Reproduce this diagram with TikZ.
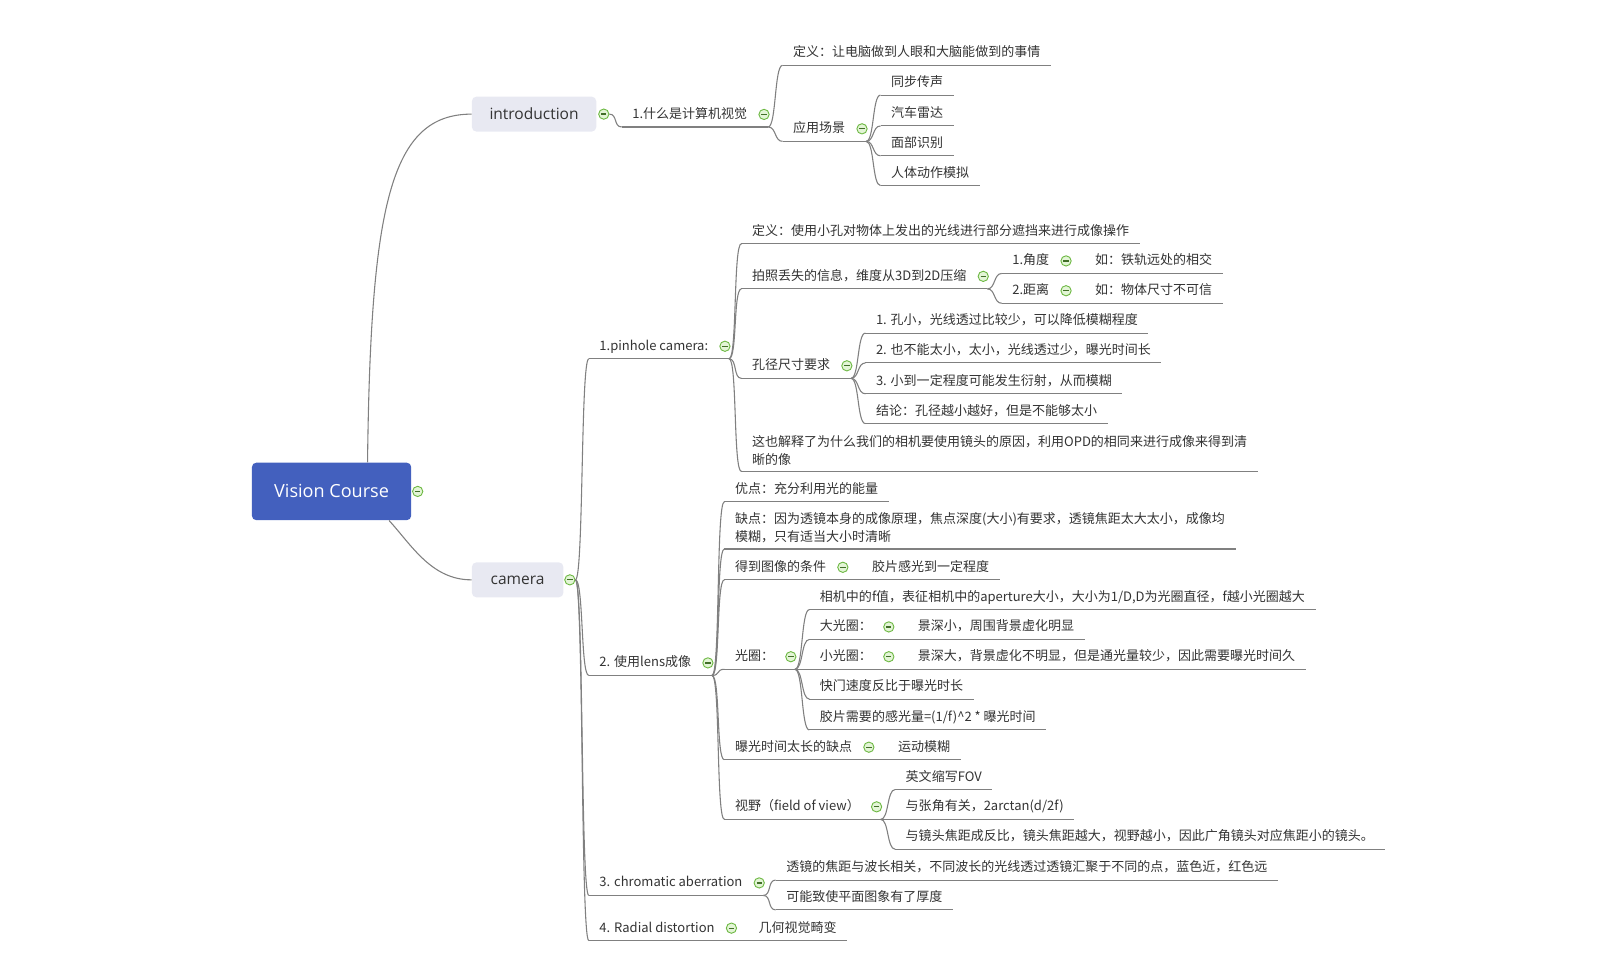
\documentclass[tikz,border=0pt]{standalone}
\usepackage{fontspec}
\usepackage{xcolor}
\usepackage{tikz}
\usetikzlibrary{positioning,calc}
\newfontfamily\cjk{Noto Sans CJK SC}
\newfontfamily\boxfont{Open Sans}
\definecolor{mapBlue}{HTML}{4360BE}
\definecolor{mapLilac}{HTML}{E8E9F2}
\definecolor{mapLine}{HTML}{808080}
\definecolor{mapText}{HTML}{333333}
\definecolor{foldGreen}{HTML}{6DB843}
\definecolor{foldFill}{HTML}{E3F5D6}
\newlength{\px}
\setlength{\px}{0.02cm}
\tikzset{
  link/.style={draw=mapLine,line width=0.6pt},
  curve/.style={to path={.. controls +(8,0) and +(-8,0) .. (\tikztotarget)}},
  topic/.style={anchor=south west,inner xsep=10\px,inner ysep=3pt,
    text height=6pt,text depth=1.5pt,text=mapText,
    font=\cjk\fontsize{7.2}{10.2}\selectfont,
    append after command={(\tikzlastnode.south west) edge[link] (\tikzlastnode.south east)}},
  twoline/.style={topic,text height={},text depth={},align=left},
  fold/.style={circle,draw=foldGreen,fill=foldFill,inner sep=0pt,minimum size=10\px,
    line width=0.5pt,
    path picture={\draw[foldGreen!60!black,line width=0.7pt]
      ([xshift=2.4\px]path picture bounding box.west) -- ([xshift=-2.4\px]path picture bounding box.east);}},
  rootbox/.style={fill=mapBlue,rounded corners=2.5pt,text=white,
    minimum width=155\px,minimum height=56\px,font=\boxfont\fontsize{10}{12}\selectfont},
  mainbox/.style={fill=mapLilac,rounded corners=2.5pt,text=mapText,
    minimum height=34\px,font=\boxfont\fontsize{8.6}{10}\selectfont}
}

\begin{document}
\begin{tikzpicture}[x=0.02cm,y=-0.02cm]
  \useasboundingbox (0,0) rectangle (1568,938);

  % main topics
  \node[rootbox] (vision) at (322.5,478) {Vision Course};
  \node[fold, right=0.5\px of vision] (vision-f) {};
  \node[mainbox, minimum width=121\px] (intro) at (519.5,111) {introduction};
  \node[fold, right=1.5\px of intro] (intro-f) {};
  \node[mainbox, minimum width=89\px] (camera) at (503.5,564) {camera};
  \node[fold, right=0.5\px of camera] (camera-f) {};

  \draw[link] ($(vision.north)+(35,0)$) .. controls +(3,-250) and +(-79,0) .. (intro.west);
  \draw[link] ($(vision.south)+(56,0)$) .. controls +(22,24) and +(-39,0) .. (camera.west);

  % introduction
  \node[topic] (whatcv) at ($(intro-f.east)+(12,12.5)$) {1.什么是计算机视觉\hspace*{10\px}};
  \node[fold] (whatcv-f) at ([xshift=-4\px]whatcv.east) {};
  \node[topic] (cvdef) at ($(whatcv.south east)+(14,-60)$) {定义：让电脑做到人眼和大脑能做到的事情};
  \node[topic] (scene) at ($(whatcv.south east)+(14,14)$) {应用场景\hspace*{10\px}};
  \node[fold] (scene-f) at ([xshift=-4\px]scene.east) {};
  \node[topic] (sync) at ($(scene.south east)+(14,-45)$) {同步传声};
  \node[topic] (radar) at ($(scene.south east)+(14,-15)$) {汽车雷达};
  \node[topic] (face) at ($(scene.south east)+(14,14)$) {面部识别};
  \node[topic] (motion) at ($(scene.south east)+(14,43)$) {人体动作模拟};

  \draw[link] (intro-f.east) to[curve] (whatcv.south west);
  \draw[link] (whatcv.south east) to[curve] (cvdef.south west);
  \draw[link] (whatcv.south east) to[curve] (scene.south west);
  \foreach \n in {sync,radar,face,motion}
    \draw[link] (scene.south east) to[curve] (\n.south west);

  % camera
  \node[topic] (pinhole) at ($(camera-f.east)+(13,-215)$) {1.pinhole camera:\hspace*{10\px}};
  \node[fold] (pinhole-f) at ([xshift=-4\px]pinhole.east) {};
  \node[topic] (lens) at ($(camera-f.east)+(13,93)$) {2. 使用lens成像\hspace*{10\px}};
  \node[fold] (lens-f) at ([xshift=-4\px]lens.east) {};
  \node[topic] (chroma) at ($(camera-f.east)+(13,307)$) {3. chromatic aberration\hspace*{10\px}};
  \node[fold] (chroma-f) at ([xshift=-4\px]chroma.east) {};
  \node[topic] (radial) at ($(camera-f.east)+(13,351)$) {4. Radial distortion\hspace*{10\px}};
  \node[fold] (radial-f) at ([xshift=-4\px]radial.east) {};

  \foreach \n in {pinhole,lens,chroma,radial}
    \draw[link] (camera-f.east) to[curve] (\n.south west);

  % 1.pinhole camera
  \node[topic] (phdef) at ($(pinhole.south east)+(12,-112)$) {定义：使用小孔对物体上发出的光线进行部分遮挡来进行成像操作};
  \node[topic] (lost) at ($(pinhole.south east)+(12,-68)$) {拍照丢失的信息，维度从3D到2D压缩\hspace*{10\px}};
  \node[fold] (lost-f) at ([xshift=-4\px]lost.east) {};
  \node[topic] (angle) at ($(lost.south east)+(14,-15)$) {1.角度\hspace*{10\px}};
  \node[fold] (angle-f) at ([xshift=-4\px]angle.east) {};
  \node[topic] (angleeg) at ($(angle.south east)+(14,0)$) {如：铁轨远处的相交};
  \node[topic] (dist) at ($(lost.south east)+(14,14)$) {2.距离\hspace*{10\px}};
  \node[fold] (dist-f) at ([xshift=-4\px]dist.east) {};
  \node[topic] (disteg) at ($(dist.south east)+(14,0)$) {如：物体尺寸不可信};
  \node[topic] (hole) at ($(pinhole.south east)+(12,19)$) {孔径尺寸要求\hspace*{10\px}};
  \node[fold] (hole-f) at ([xshift=-4\px]hole.east) {};
  \node[topic] (hole1) at ($(hole.south east)+(14,-44)$) {1. 孔小，光线透过比较少，可以降低模糊程度};
  \node[topic] (hole2) at ($(hole.south east)+(14,-15)$) {2. 也不能太小，太小，光线透过少，曝光时间长};
  \node[topic] (hole3) at ($(hole.south east)+(14,15)$) {3. 小到一定程度可能发生衍射，从而模糊};
  \node[topic] (hole4) at ($(hole.south east)+(14,44)$) {结论：孔径越小越好，但是不能够太小};
  \node[twoline] (why) at ($(pinhole.south east)+(12,109.5)$) {这也解释了为什么我们的相机要使用镜头的原因，利用OPD的相同来进行成像来得到清\\晰的像};

  \foreach \n in {phdef,lost,hole,why}
    \draw[link] (pinhole.south east) to[curve] (\n.south west);
  \draw[link] (lost.south east) to[curve] (angle.south west);
  \draw[link] (lost.south east) to[curve] (dist.south west);
  \draw[link] (angle.south east) -- (angleeg.south west);
  \draw[link] (dist.south east) -- (disteg.south west);
  \foreach \n in {hole1,hole2,hole3,hole4}
    \draw[link] (hole.south east) to[curve] (\n.south west);

  % 2. lens
  \node[topic] (pro) at ($(lens.south east)+(12,-169)$) {优点：充分利用光的能量};
  \node[twoline] (con) at ($(lens.south east)+(12,-123)$) {缺点：因为透镜本身的成像原理，焦点深度(大小)有要求，透镜焦距太大太小，成像均\\模糊，只有适当大小时清晰};
  \node[topic] (cond) at ($(lens.south east)+(12,-93)$) {得到图像的条件\hspace*{10\px}};
  \node[fold] (cond-f) at ([xshift=-4\px]cond.east) {};
  \node[topic] (condeg) at ($(cond.south east)+(14,0)$) {胶片感光到一定程度};
  \node[topic] (stop) at ($(lens.south east)+(12,-6)$) {光圈：\hspace*{10\px}};
  \node[fold] (stop-f) at ([xshift=-4\px]stop.east) {};
  \node[topic] (fnum) at ($(stop.south east)+(14,-58)$) {相机中的f值，表征相机中的aperture大小，大小为1/D,D为光圈直径，f越小光圈越大};
  \node[topic] (big) at ($(stop.south east)+(14,-29)$) {大光圈：\hspace*{10\px}};
  \node[fold] (big-f) at ([xshift=-4\px]big.east) {};
  \node[topic] (bigeg) at ($(big.south east)+(14,0)$) {景深小，周围背景虚化明显};
  \node[topic] (small) at ($(stop.south east)+(14,0)$) {小光圈：\hspace*{10\px}};
  \node[fold] (small-f) at ([xshift=-4\px]small.east) {};
  \node[topic] (smalleg) at ($(small.south east)+(14,0)$) {景深大，背景虚化不明显，但是通光量较少，因此需要曝光时间久};
  \node[topic] (shutter) at ($(stop.south east)+(14,29)$) {快门速度反比于曝光时长};
  \node[topic] (film) at ($(stop.south east)+(14,59)$) {胶片需要的感光量=(1/f)\^{}2 * 曝光时间};
  \node[topic] (longexp) at ($(lens.south east)+(12,82)$) {曝光时间太长的缺点\hspace*{10\px}};
  \node[fold] (longexp-f) at ([xshift=-4\px]longexp.east) {};
  \node[topic] (blur) at ($(longexp.south east)+(14,0)$) {运动模糊};
  \node[topic] (fov) at ($(lens.south east)+(12,140)$) {视野（field of view）\hspace*{10\px}};
  \node[fold] (fov-f) at ([xshift=-4\px]fov.east) {};
  \node[topic] (fov1) at ($(fov.south east)+(14,-29)$) {英文缩写FOV};
  \node[topic] (fov2) at ($(fov.south east)+(14,0)$) {与张角有关，2arctan(d/2f)};
  \node[topic] (fov3) at ($(fov.south east)+(14,29)$) {与镜头焦距成反比，镜头焦距越大，视野越小，因此广角镜头对应焦距小的镜头。};

  \foreach \n in {pro,con,cond,stop,longexp,fov}
    \draw[link] (lens.south east) to[curve] (\n.south west);
  \draw[link] (cond.south east) -- (condeg.south west);
  \foreach \n in {fnum,big,small,shutter,film}
    \draw[link] (stop.south east) to[curve] (\n.south west);
  \draw[link] (big.south east) -- (bigeg.south west);
  \draw[link] (small.south east) -- (smalleg.south west);
  \draw[link] (longexp.south east) -- (blur.south west);
  \foreach \n in {fov1,fov2,fov3}
    \draw[link] (fov.south east) to[curve] (\n.south west);

  % 3. and 4.
  \node[topic] (chroma1) at ($(chroma.south east)+(12,-15)$) {透镜的焦距与波长相关，不同波长的光线透过透镜汇聚于不同的点，蓝色近，红色远};
  \node[topic] (chroma2) at ($(chroma.south east)+(12,14)$) {可能致使平面图象有了厚度};
  \node[topic] (warp) at ($(radial.south east)+(12,0)$) {几何视觉畸变};

  \draw[link] (chroma.south east) to[curve] (chroma1.south west);
  \draw[link] (chroma.south east) to[curve] (chroma2.south west);
  \draw[link] (radial.south east) -- (warp.south west);
\end{tikzpicture}
\end{document}
